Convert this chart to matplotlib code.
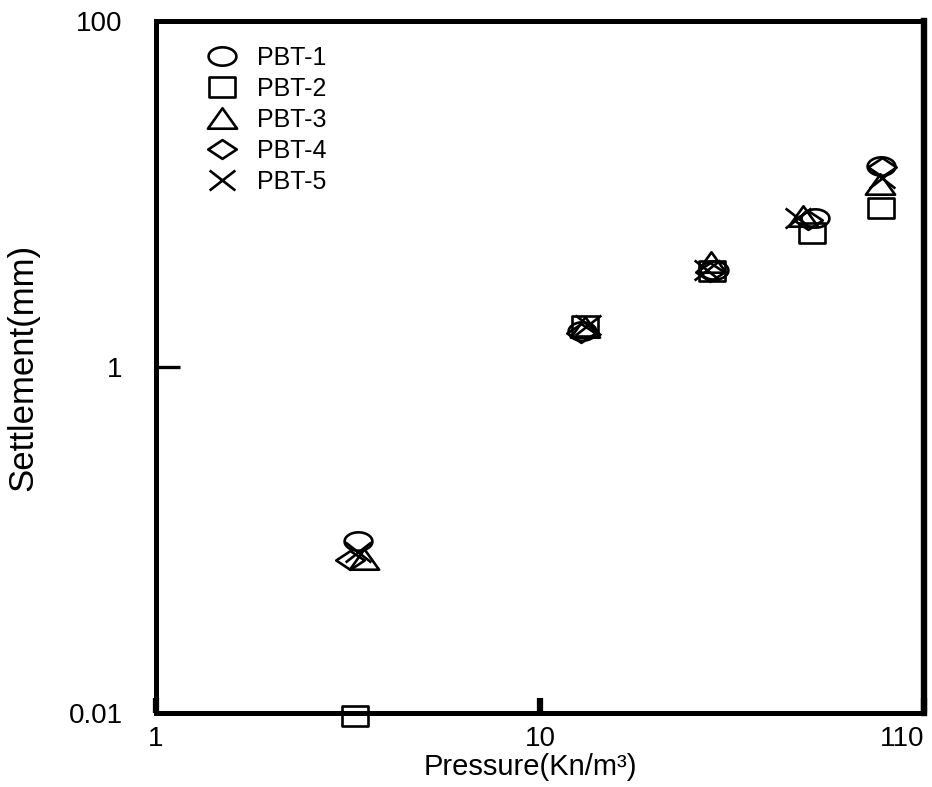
import numpy as np
import matplotlib
matplotlib.use('Agg')
import matplotlib.pyplot as plt
from matplotlib.path import Path

plt.rcParams['font.family'] = ['Liberation Sans', 'DejaVu Sans']

# ---------------- data ----------------
series_labels = ['PBT-1', 'PBT-2', 'PBT-3', 'PBT-4', 'PBT-5']

pbt1_pressure = [3.36, 12.9, 28.4, 52.0, 77.3]
pbt1_settlement = [0.0986, 1.61, 3.64, 7.27, 14.5]

pbt2_pressure = [3.30, 13.1, 28.0, 51.1, 77.3]
pbt2_settlement = [0.0096, 1.73, 3.59, 5.95, 8.30]

pbt3_pressure = [3.48, 13.1, 27.9, 48.4, 76.8]
pbt3_settlement = [0.0776, 1.70, 4.05, 7.46, 11.4]

pbt4_pressure = [3.20, 12.8, 27.7, 49.9, 77.8]
pbt4_settlement = [0.0766, 1.57, 3.54, 7.08, 14.3]

pbt5_pressure = [3.36, 13.3, 27.2, 47.0, 77.8]
pbt5_settlement = [0.0853, 1.75, 3.64, 7.27, 12.4]

x_ticks = [1, 10, 100]
x_tick_labels = ['1', '10', '110']
y_ticks = [0.01, 1, 100]
y_tick_labels = ['0.01', '1', '100']

x_label = 'Pressure(Kn/m³)'
y_label = 'Settlement(mm)'

# ---------------- marker shapes (wider than tall) ----------------
def ellipse_marker(a):
    t = np.linspace(0, 2 * np.pi, 73)
    return Path(np.column_stack([np.cos(t), a * np.sin(t)]), closed=True)

def square_marker(a):
    return Path([(-1, -a), (1, -a), (1, a), (-1, a), (-1, -a)], closed=True)

def triangle_marker(a):
    return Path([(0, a), (-1, -a), (1, -a), (0, a)], closed=True)

def diamond_marker(a):
    return Path([(-1, 0), (0, a), (1, 0), (0, -a), (-1, 0)], closed=True)

def x_marker(a):
    return Path([(-1, -a), (1, a), (-1, a), (1, -a)],
                [Path.MOVETO, Path.LINETO, Path.MOVETO, Path.LINETO])

markers = [ellipse_marker(0.66), square_marker(0.74), triangle_marker(0.70),
           diamond_marker(0.66), x_marker(0.78)]
marker_sizes = [20.0, 19.0, 21.0, 20.5, 18.5]

data = [(pbt1_pressure, pbt1_settlement), (pbt2_pressure, pbt2_settlement),
        (pbt3_pressure, pbt3_settlement), (pbt4_pressure, pbt4_settlement),
        (pbt5_pressure, pbt5_settlement)]

# ---------------- figure ----------------
fig = plt.figure(figsize=(9.32, 7.87), dpi=100)
ax = fig.add_axes([156 / 932, 1 - 713 / 787, (924 - 156) / 932, (713 - 21) / 787])

for (xs, ys), lab, mk, ms in zip(data, series_labels, markers, marker_sizes):
    ax.plot(xs, ys, linestyle='none', marker=mk, markersize=ms,
            markerfacecolor='none', markeredgecolor='black',
            markeredgewidth=1.9, clip_on=False, label=lab)

ax.set_xscale('log')
ax.set_yscale('log')
ax.set_xlim(1, 100)
ax.set_ylim(0.01, 100)
ax.minorticks_off()

ax.set_xticks(x_ticks)
ax.set_xticklabels(x_tick_labels)
ax.set_yticks(y_ticks)
ax.set_yticklabels(y_tick_labels)
ax.get_xticklabels()[-1].set_horizontalalignment('right')

ax.tick_params(axis='y', direction='in', length=17, width=2.4, pad=24,
               labelsize=20, colors='black')
ax.tick_params(axis='x', direction='in', length=11, width=4.5, pad=9,
               labelsize=20, colors='black')

for side in ['left', 'bottom', 'top']:
    ax.spines[side].set_linewidth(3.6)
ax.spines['right'].set_linewidth(4.6)

ax.set_xlabel(x_label, fontsize=21)
ax.xaxis.set_label_coords(0.488, -0.058)
ax.set_ylabel(y_label, fontsize=25)
ax.yaxis.set_label_coords(-0.152, 0.5)

leg = ax.legend(loc='upper left', bbox_to_anchor=(0.066, 0.964), frameon=False,
                fontsize=18, handlelength=1.2, handletextpad=0.8,
                labelspacing=0.28, borderpad=0, borderaxespad=0, numpoints=1)

fig.savefig('out.png', dpi=100, facecolor='white')
